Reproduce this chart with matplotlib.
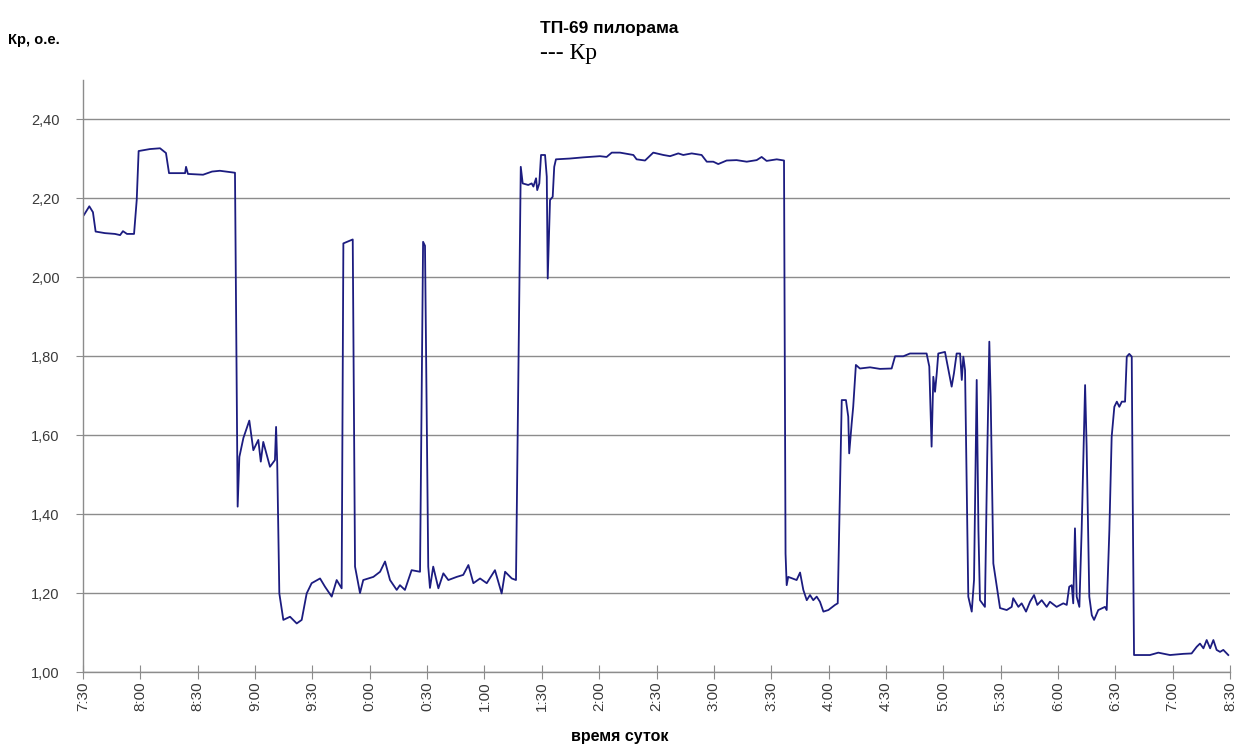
import matplotlib
matplotlib.use("Agg")
import matplotlib.pyplot as plt
import numpy as np

# minutes since the first tick (7:30)
minutes = [0.5, 3.3, 5.2, 6.6, 11.5, 16.7, 19.4, 20.9, 23.0, 26.7, 28.1, 29.1, 35.0, 40.3, 43.4, 45.0,
           53.4, 53.9, 54.9, 62.8, 67.5, 71.6, 79.5, 80.9, 81.8, 83.9, 87.0, 89.1, 91.7, 93.0, 94.3,
           97.8, 100.4, 101.0, 101.6, 102.7, 104.8, 108.3, 111.8, 114.4, 117.0, 119.6, 124.0, 126.6,
           130.1, 132.7, 135.3, 136.2, 141.1, 142.3, 144.9, 146.6, 151.9, 155.4, 158.0, 160.6, 164.1,
           165.8, 168.4, 171.9, 176.3, 177.9, 178.9, 180.6, 181.5, 183.2, 185.9, 188.5, 191.1, 195.5,
           198.9, 201.6, 204.2, 207.7, 211.2, 215.5, 219.0, 220.8, 224.3, 226.5, 229.0, 230.0, 232.9,
           234.7, 235.6, 237.0, 237.6, 238.7, 239.6, 241.7, 242.6, 243.1, 244.3, 245.7, 246.5, 247.4,
           254.7, 261.7, 270.4, 273.9, 276.6, 280.9, 287.9, 289.6, 294.0, 298.3, 303.6, 307.1, 311.4,
           314.0, 318.4, 323.6, 326.3, 329.7, 332.3, 336.7, 341.9, 347.2, 352.4, 355.0, 357.6, 362.9,
           366.7, 367.5, 368.1, 368.9, 373.3, 375.1, 376.8, 378.6, 380.3, 382.0, 383.8, 385.5, 387.3,
           389.9, 393.4, 394.8, 396.9, 399.1, 400.3, 400.8, 402.1, 402.9, 404.3, 406.4, 411.7, 416.9,
           423.0, 424.8, 429.1, 432.6, 441.3, 442.7, 443.9, 444.8, 445.7, 446.6, 447.4, 450.9, 452.7,
           454.4, 455.6, 457.0, 458.8, 459.7, 460.5, 461.4, 463.1, 464.9, 466.1, 467.5, 468.4, 469.2,
           471.8, 473.0, 474.1, 474.8, 476.2, 479.7, 483.2, 485.8, 486.6, 489.3, 491.0, 493.3, 495.4,
           497.5, 499.2, 501.5, 504.1, 505.8, 509.3, 512.8, 514.6, 515.9, 517.2, 518.0, 518.9, 519.8,
           521.2, 522.4, 524.2, 525.0, 526.4, 527.7, 528.9, 531.1, 534.6, 535.5, 536.9, 538.1, 539.5,
           540.8, 542.1, 543.4, 545.1, 546.0, 547.3, 548.6, 549.1, 549.8, 551.2, 558.1, 562.5, 568.6,
           575.6, 579.9, 582.6, 584.3, 586.1, 587.8, 589.6, 591.3, 593.0, 594.8, 596.5, 599.1]

kp = [2.158, 2.18, 2.165, 2.116, 2.112, 2.11, 2.107, 2.117, 2.11, 2.11, 2.196, 2.32, 2.325, 2.327, 2.315, 2.264,
      2.264, 2.28, 2.262, 2.26, 2.268, 2.27, 2.265, 1.419, 1.545, 1.593, 1.637, 1.562, 1.588, 1.533, 1.583,
      1.52, 1.537, 1.621, 1.528, 1.199, 1.132, 1.14, 1.123, 1.132, 1.199, 1.225, 1.237, 1.216,
      1.191, 1.233, 1.212, 2.086, 2.096, 1.267, 1.2, 1.233, 1.241, 1.254, 1.28, 1.233, 1.208,
      1.22, 1.208, 1.258, 1.254, 2.09, 2.08, 1.267, 1.213, 1.267, 1.212, 1.25, 1.233, 1.241,
      1.246, 1.271, 1.225, 1.237, 1.225, 1.258, 1.199, 1.254, 1.237, 1.233, 2.28, 2.238, 2.234,
      2.238, 2.23, 2.251, 2.221, 2.238, 2.31, 2.31, 2.255, 1.997, 2.196, 2.204, 2.28, 2.299,
      2.301, 2.304, 2.307, 2.305, 2.316, 2.316, 2.31, 2.299, 2.296, 2.316, 2.31, 2.307, 2.314,
      2.31, 2.314, 2.31, 2.293, 2.293, 2.287, 2.296, 2.297, 2.293, 2.297, 2.305, 2.295, 2.299,
      2.296, 1.30, 1.22, 1.241, 1.233, 1.252, 1.208, 1.182, 1.195, 1.182, 1.191, 1.178, 1.153,
      1.157, 1.17, 1.174, 1.689, 1.689, 1.647, 1.554, 1.63, 1.672, 1.778, 1.769, 1.772, 1.768,
      1.769, 1.80, 1.80, 1.807, 1.807, 1.774, 1.571, 1.748, 1.71, 1.757, 1.807, 1.811, 1.765,
      1.723, 1.757, 1.807, 1.807, 1.74, 1.799, 1.765, 1.191, 1.153, 1.233, 1.74, 1.36, 1.182,
      1.165, 1.545, 1.837, 1.697, 1.275, 1.162, 1.157, 1.165, 1.187, 1.165, 1.174, 1.153, 1.178,
      1.195, 1.17, 1.182, 1.165, 1.178, 1.165, 1.174, 1.17, 1.216, 1.22, 1.174, 1.364, 1.191,
      1.165, 1.36, 1.727, 1.571, 1.191, 1.144, 1.132, 1.157, 1.165, 1.157, 1.36, 1.596, 1.672,
      1.685, 1.672, 1.685, 1.685, 1.799, 1.806, 1.799, 1.444, 1.043, 1.043, 1.043, 1.049, 1.043,
      1.046, 1.047, 1.064, 1.072, 1.06, 1.081, 1.06, 1.081, 1.056, 1.051, 1.056, 1.043]

tick_labels = ["7:30", "8:00", "8:30", "9:00", "9:30", "0:00", "0:30", "1:00", "1:30", "2:00", "2:30",
               "3:00", "3:30", "4:00", "4:30", "5:00", "5:30", "6:00", "6:30", "7:00", "8:30"]
y_ticks = [1.0, 1.2, 1.4, 1.6, 1.8, 2.0, 2.2, 2.4]

plt.rcParams['font.family'] = ['Liberation Sans', 'DejaVu Sans']

fig = plt.figure(figsize=(12.36, 7.47), dpi=100)
ax = fig.add_axes([83/1236, 1-672/747, (1230-83)/1236, (672-80)/747])

ax.plot(minutes, kp, color='#1c1c80', lw=1.3, solid_joinstyle='round')

ax.set_xlim(0, 600)
ax.set_ylim(1.0, 2.5)
ax.set_xticks(np.arange(len(tick_labels)) * 30)
ax.set_xticklabels(tick_labels, rotation=90, fontsize=11, color='#3a3a3a')
ax.set_yticks(y_ticks)
ax.set_yticklabels([f"{v:.2f}".replace('.', ',') for v in y_ticks], fontsize=10.5, color='#3a3a3a')
ax.yaxis.grid(True, color='#8c8c8c', lw=1.0)
ax.set_axisbelow(True)
for s in ['top', 'right']:
    ax.spines[s].set_visible(False)
for s in ['left', 'bottom']:
    ax.spines[s].set_color('#8c8c8c')
    ax.spines[s].set_linewidth(1.0)
ax.tick_params(axis='y', direction='out', length=5, color='#8c8c8c', pad=12)
ax.tick_params(axis='x', direction='inout', length=10, color='#8c8c8c', pad=2)

fig.text(8/1236, 1-40/747, "Кр, о.е.", fontsize=10.5, fontweight='bold', va='center', ha='left')
fig.text(540/1236, 1-28/747, "ТП-69 пилорама", fontsize=12.5, fontweight='bold', va='center', ha='left')
fig.text(540/1236, 1-53/747, "--- Кр", fontsize=17, family='Liberation Serif', va='center', ha='left')
fig.text(620/1236, 1-737/747, "время суток", fontsize=11.5, fontweight='bold', va='center', ha='center')

fig.savefig("out.png", dpi=100, facecolor='white')
